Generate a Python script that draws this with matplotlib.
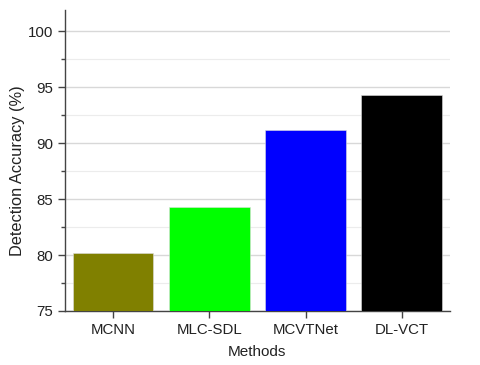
import matplotlib

matplotlib.use("Agg")
import matplotlib.pyplot as plt  # noqa: E402
from matplotlib.ticker import MultipleLocator  # noqa: E402

plt.rcParams["font.family"] = ["Liberation Sans", "DejaVu Sans"]

methods = ["MCNN", "MLC-SDL", "MCVTNet", "DL-VCT"]
accuracy = [80.2, 84.25, 91.2, 94.3]
colors = ["#808000", "#00ff00", "#0000ff", "#000000"]

fig = plt.figure(figsize=(4.8, 3.65), dpi=100)
ax = fig.add_axes([0.135, 0.148, 0.8025, 0.825])

x = range(len(methods))
ax.bar(x, accuracy, width=0.84, color=colors, edgecolor="#dddddd", linewidth=0.4, zorder=3)

ax.set_xlim(-0.5, 3.5)
ax.set_ylim(75, 101.9)
ax.set_xticks(list(x))
ax.set_xticklabels(methods)
ax.yaxis.set_major_locator(MultipleLocator(5))
ax.yaxis.set_minor_locator(MultipleLocator(2.5))
ax.grid(True, axis="y", which="major", color="#d8d8d8", linewidth=1.0, zorder=0)
ax.grid(True, axis="y", which="minor", color="#ececec", linewidth=0.8, zorder=0)

for side in ("top", "right"):
    ax.spines[side].set_visible(False)
for side in ("left", "bottom"):
    ax.spines[side].set_color("#444444")
    ax.spines[side].set_linewidth(1.0)

ax.tick_params(axis="both", which="major", direction="out", length=5, width=1,
               color="#444444", labelsize=10.8, labelcolor="#222222")
ax.tick_params(axis="y", which="minor", direction="out", length=3, width=1, color="#444444")

ax.set_xlabel("Methods", fontsize=11, color="#222222", labelpad=6)
ax.set_ylabel("Detection Accuracy (%)", fontsize=11.8, color="#222222")
ax.yaxis.set_label_coords(-0.104, 0.465)

fig.savefig("out.png", dpi=100)
